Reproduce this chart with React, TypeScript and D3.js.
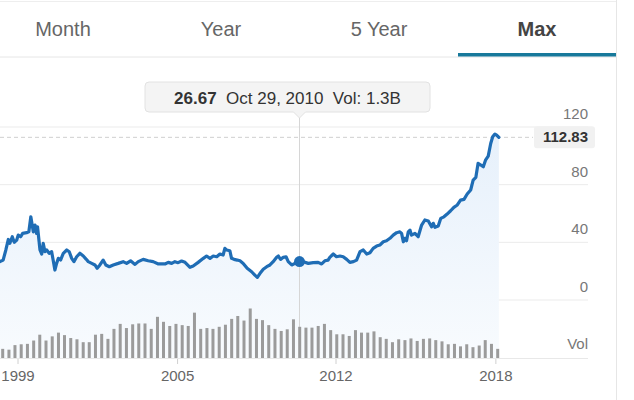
import * as d3 from "d3";

const W = 634;
const H = 400;
const FONT = "'Liberation Sans', Arial, Helvetica, sans-serif";

const tabs = ["Month", "Year", "5 Year", "Max"];
const activeTab = "Max";

// price line, dates as decimal years
const priceDates = [
  1998.72, 1998.85, 1998.96, 1999.06, 1999.12, 1999.22, 1999.3, 1999.4, 1999.46, 1999.56,
  1999.64, 1999.8, 1999.89, 1999.97, 2000.07, 2000.14, 2000.2, 2000.24, 2000.34, 2000.41,
  2000.47, 2000.54, 2000.61, 2000.71, 2000.81, 2000.87, 2000.94, 2001.01, 2001.08, 2001.17,
  2001.28, 2001.42, 2001.52, 2001.62, 2001.71, 2001.82, 2001.95, 2002.09, 2002.2, 2002.29,
  2002.43, 2002.56, 2002.65, 2002.76, 2002.89, 2003.0, 2003.14, 2003.3, 2003.5, 2003.7,
  2003.84, 2004.0, 2004.18, 2004.31, 2004.51, 2004.71, 2004.91, 2005.12, 2005.39, 2005.52,
  2005.66, 2005.79, 2005.92, 2006.06, 2006.2, 2006.4, 2006.53, 2006.73, 2006.94, 2007.07,
  2007.21, 2007.34, 2007.48, 2007.61, 2007.74, 2007.81, 2007.88, 2008.01, 2008.08, 2008.18,
  2008.31, 2008.42, 2008.55, 2008.71, 2008.89, 2009.02, 2009.12, 2009.23, 2009.36, 2009.5,
  2009.63, 2009.76, 2009.9, 2009.97, 2010.06, 2010.17, 2010.28, 2010.37, 2010.51, 2010.64,
  2010.77, 2010.83, 2010.98, 2011.18, 2011.38, 2011.58, 2011.72, 2011.85, 2011.98, 2012.05,
  2012.19, 2012.32, 2012.46, 2012.59, 2012.73, 2012.86, 2013.0, 2013.13, 2013.27, 2013.4,
  2013.54, 2013.67, 2013.8, 2013.94, 2014.07, 2014.21, 2014.34, 2014.48, 2014.61, 2014.75,
  2014.88, 2014.95, 2015.02, 2015.08, 2015.15, 2015.22, 2015.29, 2015.35, 2015.49, 2015.62,
  2015.76, 2015.89, 2016.03, 2016.16, 2016.23, 2016.3, 2016.43, 2016.53, 2016.66, 2016.79,
  2016.93, 2017.06, 2017.2, 2017.33, 2017.47, 2017.6, 2017.74, 2017.84, 2017.95, 2018.04,
  2018.15, 2018.25, 2018.34, 2018.45, 2018.55, 2018.63, 2018.72, 2018.79, 2018.88,
];
const priceValues = [
  26.6, 27.7, 34.7, 42, 39.3, 43.9, 40, 41.6, 45, 43.9,
  46.2, 46.7, 47.3, 57.7, 47.3, 52, 46.2, 50.8, 34.7, 31.9,
  39.3, 33.5, 34.7, 32.4, 33.5, 27.7, 20.8, 25.4, 28.9, 27.7,
  32.4, 34.7, 33.5, 28.9, 26.6, 30, 32.4, 30.5, 28.4, 26.6,
  25.4, 24.3, 22, 24.3, 27.7, 24.3, 23.1, 24.3, 25.4, 26.6,
  25.4, 27.2, 24.7, 26.6, 28.2, 27.2, 26.6, 25, 25, 26.1,
  25.4, 26.6, 25.9, 27, 26.1, 22.7, 23.6, 26.1, 28.9, 30.5,
  28.9, 30.5, 30, 31.9, 31.2, 35.8, 34.7, 34.2, 28.9, 28.2,
  27.7, 27.2, 25.4, 22, 19.6, 17.3, 15.7, 18.5, 21.3, 23.1,
  24.3, 26.6, 29.6, 30.5, 28.2, 29.6, 30, 26.6, 24.3, 25.4,
  26.1, 26.67, 26.6, 25.4, 25.9, 26.1, 25, 27.2, 27.7, 29.6,
  31.9, 30, 30.5, 30, 28.2, 26.1, 26.6, 27.7, 33.5, 34.7,
  31.9, 32.8, 35.8, 37.4, 38.1, 40.4, 41.1, 42.8, 45, 46.7,
  47.3, 46.2, 40.4, 42.8, 41.1, 47.3, 48.5, 45, 46.2, 43.9,
  52, 55.5, 54.8, 50.8, 53.2, 50.4, 51.3, 56.6, 57.7, 59.6,
  61.9, 64.3, 65.9, 69.3, 69.8, 73.5, 76.3, 83.2, 85.1, 94.8,
  93.6, 92.4, 97, 99.8, 108.6, 113.2, 115.1, 114.4, 112.83,
];

// quarterly volume, billions
const volumeStart = "1998-11-01";
const volumeValues = [
  2.2, 2.0, 3.1, 3.3, 3.4, 4.2, 5.6, 4.2, 5.2, 6.1,
  5.5, 4.8, 4.5, 3.8, 3.8, 5.6, 5.8, 4.6, 7.0, 8.2,
  7.2, 8.1, 8.3, 8.3, 7.0, 9.9, 8.7, 7.7, 8.2, 7.9,
  7.7, 10.9, 7.0, 7.2, 7.0, 7.5, 8.0, 9.4, 10.1, 9.0,
  11.9, 9.4, 9.1, 7.9, 7.0, 6.5, 6.9, 9.3, 7.5, 7.3,
  7.3, 7.7, 8.2, 6.7, 5.7, 5.7, 5.3, 6.7, 6.1, 6.1,
  6.4, 5.0, 4.6, 3.8, 4.5, 4.3, 4.7, 4.1, 4.6, 4.7,
  4.3, 4.0, 3.3, 3.4, 2.8, 3.3, 2.6, 3.0, 4.3, 3.4,
  2.2,
];

const yTicks = [0, 40, 80, 120];
const xTickDates = ["1999-06-15", "2005-11-25", "2012-04-20", "2018-10-05"];
const xTickLabels = ["1999", "2005", "2012", "2018"];

const lastPrice = 112.83;
const hover = { date: "2010-10-29", price: 26.67, label: "Oct 29, 2010", vol: "1.3B" };

const fromYear = (t: number) => {
  const yr = Math.floor(t);
  const a = Date.UTC(yr, 0, 1);
  const b = Date.UTC(yr + 1, 0, 1);
  return new Date(a + (t - yr) * (b - a));
};

type Pt = { date: Date; value: number };

export default function App() {
  const x = d3
    .scaleUtc()
    .domain([new Date("1998-11-01"), new Date("2018-11-01")])
    .range([2.7, 497.7]);
  const y = d3.scaleLinear().domain([0, 120]).range([300, 127]);
  const yVol = d3.scaleLinear().domain([0, 12.5]).range([358, 306]);

  const gridRight = 588;
  const tabW = 158;
  const tabX0 = -16;

  const points: Pt[] = priceDates.map((d, i) => ({ date: fromYear(d), value: priceValues[i] }));
  const line = d3
    .line<Pt>()
    .x((d) => x(d.date))
    .y((d) => y(d.value));
  const area = d3
    .area<Pt>()
    .x((d) => x(d.date))
    .y0(yVol(0))
    .y1((d) => y(d.value));

  const vStart = new Date(volumeStart);
  const bars = volumeValues.map((v, i) => ({ date: d3.utcMonth.offset(vStart, i * 3), value: v }));

  const hx = x(new Date(hover.date));
  const hy = y(hover.price);

  // tooltip box with pointer
  const tipL = 145;
  const tipR = 430;
  const tipT = 82;
  const tipB = 112;
  const r = 4;
  const tipPath = `M${tipL + r},${tipT} H${tipR - r} Q${tipR},${tipT} ${tipR},${tipT + r} V${tipB - r} Q${tipR},${tipB} ${tipR - r},${tipB} H${hx + 6} L${hx},${tipB + 6} L${hx - 6},${tipB} H${tipL + r} Q${tipL},${tipB} ${tipL},${tipB - r} V${tipT + r} Q${tipL},${tipT} ${tipL + r},${tipT} Z`;

  return (
    <svg
      width={W}
      height={H}
      style={{ position: "absolute", left: 0, top: 0, background: "#fff", fontFamily: FONT }}
    >
      <defs>
        <linearGradient id="fill" gradientUnits="userSpaceOnUse" x1={0} y1={y(120)} x2={0} y2={yVol(0)}>
          <stop offset="0%" stopColor="#e6f0fb" />
          <stop offset="100%" stopColor="#f8fbfe" />
        </linearGradient>
      </defs>

      {/* card frame */}
      <line x1={616.5} x2={616.5} y1={0} y2={H} stroke="#e6e6e6" />
      <line x1={0} x2={616} y1={1.5} y2={1.5} stroke="#eeeeee" />

      {/* tabs */}
      {tabs.map((t, i) => (
        <text
          key={t}
          x={tabX0 + tabW * i + tabW / 2}
          y={36}
          textAnchor="middle"
          fontSize={20}
          fontWeight={t === activeTab ? "bold" : "normal"}
          fill={t === activeTab ? "#444" : "#666"}
        >
          {t}
        </text>
      ))}
      <line x1={0} x2={616} y1={57} y2={57} stroke="#e6e6e6" />
      <rect
        x={tabX0 + tabW * tabs.indexOf(activeTab)}
        y={53}
        width={tabW}
        height={3.5}
        fill="#17799b"
      />

      {/* grid */}
      {yTicks.map((t) => (
        <line key={t} x1={0} x2={gridRight} y1={y(t)} y2={y(t)} stroke="#ebebeb" />
      ))}

      {/* area */}
      <path d={area(points) ?? ""} fill="url(#fill)" />

      {/* last price guide */}
      <line
        x1={0}
        x2={533}
        y1={y(lastPrice)}
        y2={y(lastPrice)}
        stroke="#cfcfcf"
        strokeDasharray="4,3"
      />

      {/* crosshair */}
      <line x1={hx} x2={hx} y1={tipB + 6} y2={yVol(0)} stroke="#d6d6d6" />

      {/* volume */}
      <line x1={0} x2={gridRight} y1={yVol(0) + 0.5} y2={yVol(0) + 0.5} stroke="#e8e8e8" />
      {bars.map((b, i) => (
        <rect
          key={i}
          x={x(b.date) - 1.5}
          y={yVol(b.value)}
          width={3}
          height={yVol(0) - yVol(b.value)}
          fill="#9b9b9b"
        />
      ))}

      {/* x axis */}
      {xTickDates.map((d, i) => (
        <g key={d} transform={`translate(${x(new Date(d))},0)`}>
          <line y1={yVol(0) + 1} y2={yVol(0) + 6} stroke="#d0d0d0" />
          <text y={381} textAnchor="middle" fontSize={15} fill="#666">
            {xTickLabels[i]}
          </text>
        </g>
      ))}

      {/* price line */}
      <path
        d={line(points) ?? ""}
        fill="none"
        stroke="#1f6db5"
        strokeWidth={3.2}
        strokeLinejoin="round"
        strokeLinecap="round"
      />
      <circle cx={hx} cy={hy} r={5.5} fill="#1f6db5" />

      {/* y axis labels */}
      {yTicks.map((t) => (
        <text key={t} x={gridRight} y={y(t) - 8} textAnchor="end" fontSize={15} fill="#777">
          {t}
        </text>
      ))}
      <text x={gridRight} y={yVol(0) - 9} textAnchor="end" fontSize={15} fill="#777">
        Vol
      </text>

      {/* last price badge */}
      <rect x={534} y={y(lastPrice) - 11} width={61} height={22} rx={3} fill="#f1f1f1" />
      <text
        x={gridRight}
        y={y(lastPrice) + 5}
        textAnchor="end"
        fontSize={15}
        fontWeight="bold"
        fill="#333"
      >
        {lastPrice.toFixed(2)}
      </text>

      {/* tooltip */}
      <path d={tipPath} fill="#f4f4f4" stroke="#e2e2e2" />
      <text
        x={(tipL + tipR) / 2}
        y={104}
        textAnchor="middle"
        fontSize={17}
        fill="#333"
        style={{ whiteSpace: "pre" }}
      >
        <tspan fontWeight="bold">{hover.price.toFixed(2)}</tspan>
        <tspan>{`  ${hover.label}  Vol: ${hover.vol}`}</tspan>
      </text>
    </svg>
  );
}
